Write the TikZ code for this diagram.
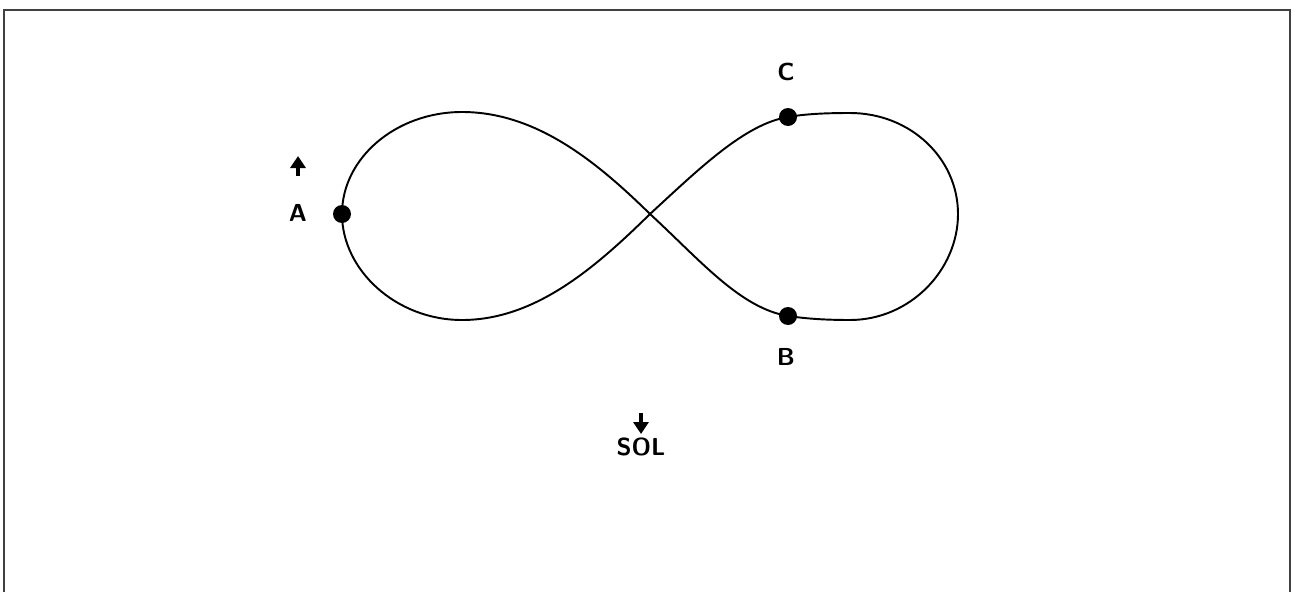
\documentclass[tikz,border=0pt]{standalone}
\usetikzlibrary{arrows.meta}
\tikzset{
  rahmen/.style={black!75,line width=1.1pt},
  kurve/.style={black,line width=1.1pt},
  punkt/.style={circle,fill=black,inner sep=0pt,minimum size=0.36cm},
  lbl/.style={font=\sffamily\bfseries\fontsize{14}{16}\selectfont,inner sep=1pt},
  pfeil/.style={-{Triangle[length=2.4mm,width=3mm]},black,line width=2.4pt},
}
\begin{document}
\begin{tikzpicture}[x=0.02cm,y=-0.02cm]
  \useasboundingbox (0,0) rectangle (1292,592);
  % frame, open at the bottom
  \draw[rahmen] (4,592) -- (4,10) -- (1290,10) -- (1290,592);
  % figure eight
  \coordinate (X) at (650,214);
  \draw[kurve] (X) .. controls (700,168) and (745,124) .. (788,117)
    .. controls (805,114) and (825,113) .. (850,113)
    .. controls (910,113) and (958,158) .. (958,214)
    .. controls (958,270) and (910,320) .. (850,320)
    .. controls (820,320) and (802,318) .. (788,316)
    .. controls (740,308) and (700,260) .. (X)
    .. controls (595,160) and (535,112) .. (462,112)
    .. controls (396,112) and (342,158) .. (342,214)
    .. controls (342,270) and (396,320) .. (462,320)
    .. controls (535,320) and (595,268) .. (X);
  % points
  \node[punkt] (A) at (342,214) {};
  \node[punkt] (C) at (788,117) {};
  \node[punkt] (B) at (788,316) {};
  \node[lbl] (lA) at (298,213) {A};
  \node[lbl] (lC) at (786,72) {C};
  \node[lbl] (lB) at (786,357) {B};
  \node[lbl] (sol) at (641,447) {SOL};
  % arrows
  \draw[pfeil] (298,176) -- (298,156);
  \draw[pfeil] (641,413) -- (641,434);
\end{tikzpicture}
\end{document}
